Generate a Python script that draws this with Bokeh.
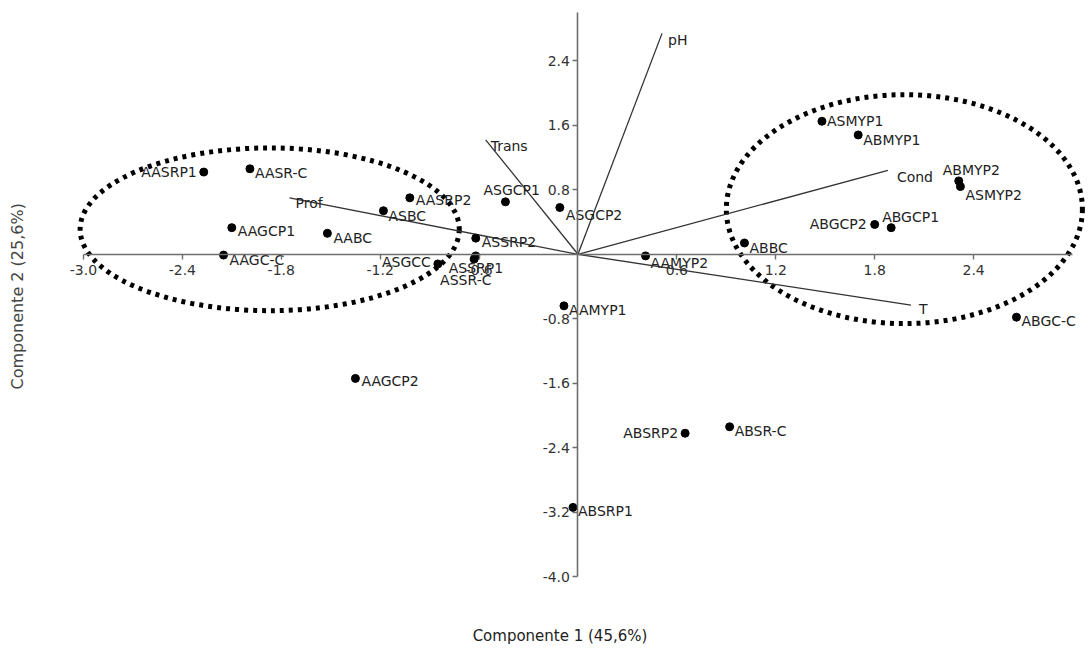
from bokeh.plotting import figure
from bokeh.models import ColumnDataSource, FixedTicker, Title, LinearAxis, PrintfTickFormatter
from bokeh.core.properties import value
from bokeh.embed import file_html
from bokeh.resources import INLINE

# ---- data ----
names = ["AASRP1", "AASR-C", "AASRP2", "ASBC", "AAGCP1", "AABC", "AAGC-C",
         "ASGCC", "ASSRP1", "ASSR-C", "ASSRP2", "ASGCP1", "ASGCP2", "AAMYP1",
         "AAMYP2", "ABBC", "ABGCP2", "ABGCP1", "ABMYP2", "ASMYP2", "ASMYP1",
         "ABMYP1", "ABGC-C", "AAGCP2", "ABSRP2", "ABSR-C", "ABSRP1"]
pc1 = [-2.27, -1.99, -1.02, -1.18, -2.10, -1.52, -2.15,
       -0.85, -0.62, -0.63, -0.62, -0.44, -0.11, -0.085,
       0.41, 1.01, 1.80, 1.90, 2.31, 2.32, 1.48,
       1.70, 2.66, -1.35, 0.65, 0.92, -0.03]
pc2 = [1.02, 1.06, 0.70, 0.54, 0.33, 0.26, -0.01,
       -0.12, -0.02, -0.06, 0.20, 0.65, 0.58, -0.64,
       -0.02, 0.14, 0.37, 0.33, 0.91, 0.84, 1.65,
       1.48, -0.78, -1.54, -2.22, -2.14, -3.14]

var_names = ["pH", "Trans", "Prof", "Cond", "T"]
load1 = [0.51, -0.56, -1.75, 1.88, 2.02]
load2 = [2.74, 1.42, 0.70, 1.04, -0.63]

x_ticks = [-3.0, -2.4, -1.8, -1.2, -0.6, 0.6, 1.2, 1.8, 2.4]
y_ticks = [2.4, 1.6, 0.8, -0.8, -1.6, -2.4, -3.2, -4.0]

# group ellipses (centre x, centre y, width, height)
ell_x = [-1.87, 1.98]
ell_y = [0.31, 0.56]
ell_w = [2.30, 2.16]
ell_h = [2.02, 2.84]

# ---- label placement (styling: pixel offsets and alignment) ----
lab_dx = [-7, 5, 6, 5, 6, 6, 6,
          -7, -27, -34, 6, -22, 6, 5,
          5, 5, -8, -9, -16, 5, 5,
          5, 5, 6, -7, 5, 5]
lab_dy = [0, 4, 2, 5, 3, 5, 5,
          -2, 12, 21, 4, -12, 7, 4,
          7, 5, 0, -11, -11, 8, 0,
          5, 4, 3, 0, 4, 4]
lab_al = ["right", "left", "left", "left", "left", "left", "left",
          "right", "left", "left", "left", "left", "left", "left",
          "left", "left", "right", "left", "left", "left", "left",
          "left", "left", "left", "right", "left", "left"]
var_dx = [6, 5, 6, 9, 8]
var_dy = [7, 6, 5, 7, 4]

FONT = "DejaVu Sans"
FS = "14px"

x0, x1 = -3.315, 3.097
y0, y1 = -4.543, 3.086

p = figure(width=1088, height=648, output_backend="svg", toolbar_location=None,
           x_range=(x0, x1), y_range=(y0, y1),
           x_axis_location=None, y_axis_location=None,
           min_border_left=0, min_border_right=0, min_border_top=5, min_border_bottom=0)
p.grid.visible = False
p.outline_line_color = None
p.background_fill_color = "white"

xa = LinearAxis(ticker=FixedTicker(ticks=x_ticks), fixed_location=0, bounds=(-3.0, 3.0))
ya = LinearAxis(ticker=FixedTicker(ticks=y_ticks), fixed_location=0, bounds=(-4.0, 3.0))
for ax in (xa, ya):
    ax.formatter = PrintfTickFormatter(format="%.1f")
    ax.axis_line_color = "#6e6e6e"
    ax.axis_line_width = 1.6
    ax.major_tick_line_color = "#6e6e6e"
    ax.major_tick_line_width = 1.4
    ax.major_tick_out = 5
    ax.major_tick_in = 0
    ax.minor_tick_line_color = None
    ax.major_label_text_font = FONT
    ax.major_label_text_font_size = FS
    ax.major_label_text_color = "#333333"
xa.major_label_standoff = 6
ya.major_label_standoff = 3
p.add_layout(xa, "below")
p.add_layout(ya, "left")

p.add_layout(Title(text="Componente 1 (45,6%)", align="center", text_font=FONT,
                   text_font_size="15px", text_font_style="normal",
                   text_color="#222222", standoff=8), "below")
p.add_layout(Title(text="Componente 2 (25,6%)", align="left", offset=231, text_font=FONT,
                   text_font_size="16px", text_font_style="normal",
                   text_color="#444444"), "left")

# ellipses
p.ellipse(x=ell_x, y=ell_y, width=ell_w, height=ell_h, fill_color=None,
          line_color="black", line_width=5, line_dash="4 5")

# loading vectors
p.segment(x0=[0] * len(load1), y0=[0] * len(load1), x1=load1, y1=load2,
          line_color="#333333", line_width=1.3)
p.text(x=load1, y=load2, text=var_names, x_offset=var_dx, y_offset=var_dy,
       text_font=value(FONT), text_font_size=FS, text_color="#222222",
       text_baseline="middle", text_align="left")

# scores
src = ColumnDataSource(dict(x=pc1, y=pc2, name=names, dx=lab_dx, dy=lab_dy, al=lab_al))
p.scatter(x="x", y="y", source=src, size=8, color="black")
p.text(x="x", y="y", text="name", source=src, x_offset="dx", y_offset="dy",
       text_align="al", text_baseline="middle",
       text_font=value(FONT), text_font_size=FS, text_color="#222222")

open("out.html", "w").write(file_html(p, INLINE))
